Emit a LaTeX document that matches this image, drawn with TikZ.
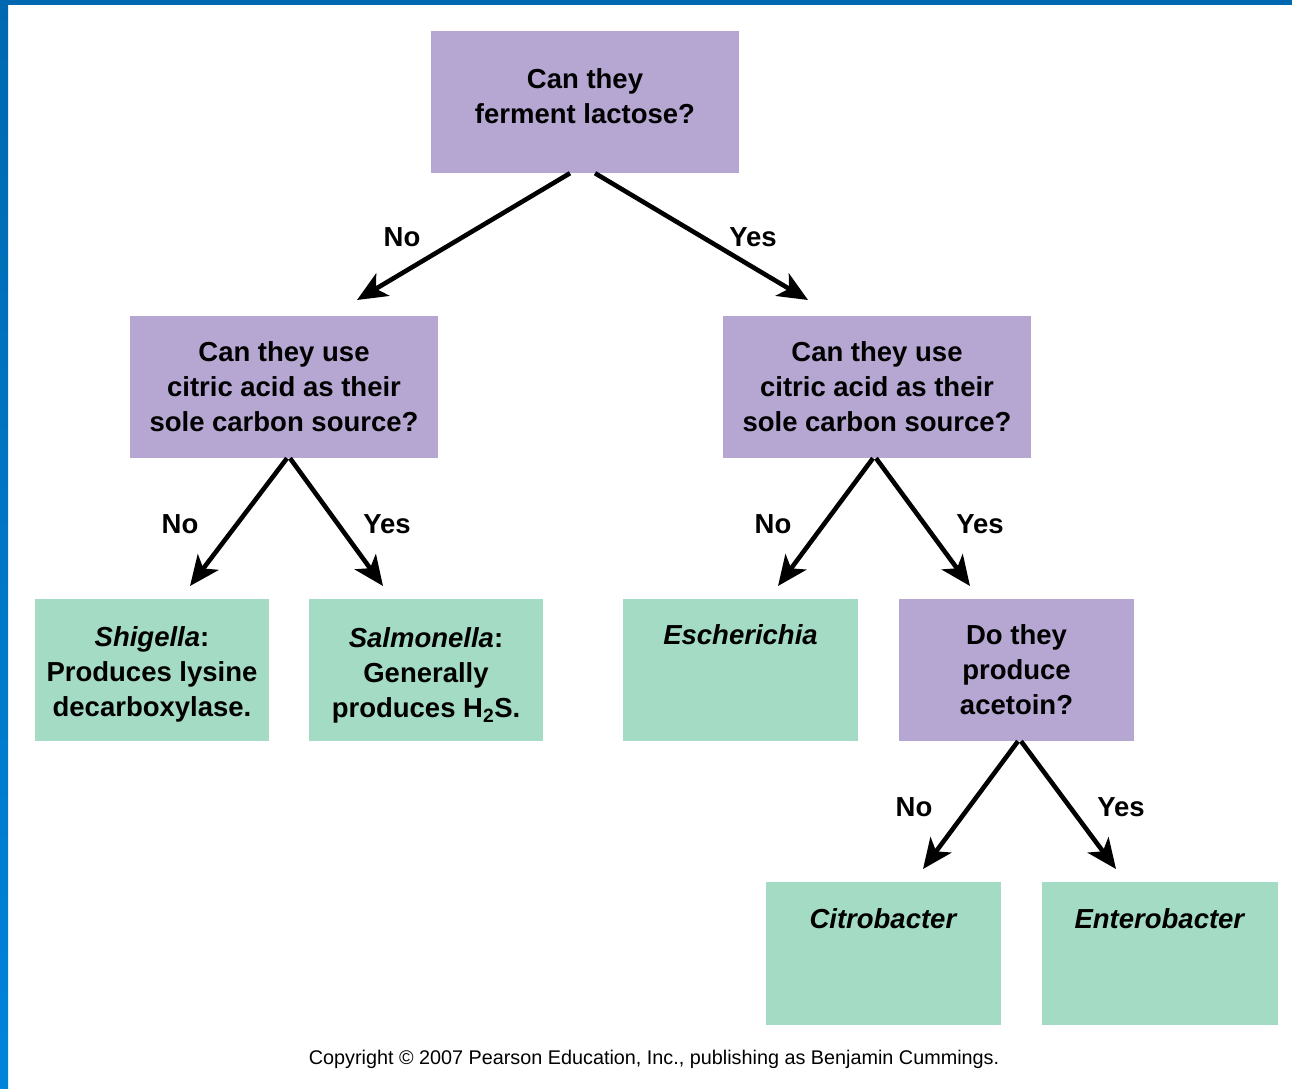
\documentclass[tikz,border=0pt]{standalone}
\usepackage{fontspec}
\setmainfont{Liberation Sans}
\usetikzlibrary{arrows.meta}
\definecolor{qpurple}{RGB}{181,166,210}
\definecolor{agreen}{RGB}{163,219,196}
\definecolor{bardark}{RGB}{0,104,176}
\definecolor{barlight}{RGB}{0,132,218}
\tikzset{
  qbox/.style={fill=qpurple, draw=none, inner sep=0pt, align=center, font=\fontsize{27.5}{35}\selectfont\bfseries},
  abox/.style={fill=agreen, draw=none, inner sep=0pt, align=center, font=\fontsize{27.5}{35}\selectfont\bfseries},
  lbl/.style={font=\fontsize{27.5}{32}\selectfont\bfseries, inner sep=0pt},
  arr/.style={line width=4.6pt, -{Stealth[length=30pt,width=26pt,inset=8pt]}},
}
\begin{document}
\begin{tikzpicture}[x=1pt,y=-1pt]
\useasboundingbox (0,0) rectangle (1292,1088);
\fill[white] (0,0) rectangle (1292,1088);
\fill[bardark] (0,0) rectangle (1292,5);
\shade[top color=bardark, bottom color=barlight] (0,0) rectangle (8,1088);

% question boxes
\node[qbox, minimum width=308pt, minimum height=142pt] (q1) at (585,102) {Can they\\ferment lactose?\\[-23pt]\mbox{}};
\node[qbox, minimum width=308pt, minimum height=142pt] (q2) at (284,387) {Can they use\\citric acid as their\\sole carbon source?};
\node[qbox, minimum width=308pt, minimum height=142pt] (q3) at (877,387) {Can they use\\citric acid as their\\sole carbon source?};
\node[qbox, minimum width=235pt, minimum height=142pt] (q4) at (1016.5,670) {Do they\\produce\\acetoin?};

% answer boxes
\node[abox, minimum width=234pt, minimum height=142pt] (shi) at (152,670) {\mbox{}\\[-7pt]\textit{Shigella}:\\Produces lysine\\decarboxylase.};
\node[abox, minimum width=234pt, minimum height=142pt] (sal) at (426,670) {\mbox{}\\[-5pt]\textit{Salmonella}:\\Generally\\produces H\textsubscript{2}S.};
\node[abox, minimum width=235pt, minimum height=142pt] (esc) at (740.5,670) {\textit{Escherichia}\\\mbox{}\\\mbox{}};
\node[abox, minimum width=235pt, minimum height=143pt] (cit) at (883.5,953.5) {\textit{Citrobacter}\\\mbox{}\\\mbox{}};
\node[abox, minimum width=236pt, minimum height=143pt] (ent) at (1160,953.5) {\textit{Enterobacter}\\\mbox{}\\\mbox{}};

% arrow end points
\coordinate (e1) at (357,300);
\coordinate (e2) at (808,300);
\coordinate (e3) at (190,586);
\coordinate (e4) at (383,586);
\coordinate (e5) at (778,586);
\coordinate (e6) at (970,586);
\coordinate (e7) at (923,869);
\coordinate (e8) at (1116,869);

\draw[arr] ([xshift=-15pt]q1.south) -- (e1);
\draw[arr] ([xshift=10pt]q1.south) -- (e2);
\draw[arr] ([xshift=3pt]q2.south) -- (e3);
\draw[arr] ([xshift=6pt]q2.south) -- (e4);
\draw[arr] ([xshift=-4pt]q3.south) -- (e5);
\draw[arr] ([xshift=-1pt]q3.south) -- (e6);
\draw[arr] ([xshift=1.5pt]q4.south) -- (e7);
\draw[arr] ([xshift=4.5pt]q4.south) -- (e8);

% labels
\node[lbl] (l1) at (402,237) {No};
\node[lbl] (l2) at (753,237) {Yes};
\node[lbl] (l3) at (180,524) {No};
\node[lbl] (l4) at (387,524) {Yes};
\node[lbl] (l5) at (773,524) {No};
\node[lbl] (l6) at (980,524) {Yes};
\node[lbl] (l7) at (914,807) {No};
\node[lbl] (l8) at (1121,807) {Yes};

\node[font=\fontsize{19.8}{22}\selectfont, inner sep=0pt] (copy) at (654,1059) {Copyright © 2007 Pearson Education, Inc., publishing as Benjamin Cummings.};
\end{tikzpicture}
\end{document}
